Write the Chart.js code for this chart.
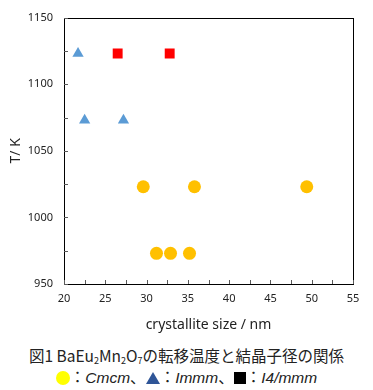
<!DOCTYPE html>
<html>
<head>
<meta charset="utf-8">
<script src="https://cdn.jsdelivr.net/npm/chart.js@4/dist/chart.umd.min.js"></script>
<style>
  body { margin: 0; background: #fff; width: 373px; height: 390px; overflow: hidden; }
  #wrap { width: 373px; height: 340px; position: relative; }
  .cap { font-family: "Noto Sans CJK JP", sans-serif; font-size: 15.5px; color: #222; text-align: center; line-height: 21px; }
  .cap sub { font-size: 9px; vertical-align: -2px; line-height: 0; }
  .lg i { font-family: "Liberation Sans", sans-serif; font-style: italic; }
  .dot { display: inline-block; width: 14px; height: 14px; border-radius: 50%; background: #ffff00; vertical-align: -2px; }
  .tri { display: inline-block; width: 0; height: 0; border-left: 7px solid transparent; border-right: 7px solid transparent; border-bottom: 12px solid #2f5597; vertical-align: -1px; }
  .sq { display: inline-block; width: 12px; height: 12px; background: #000; vertical-align: -1px; }
</style>
</head>
<body>
<div id="wrap"><canvas id="tempChart"></canvas></div>
<div class="cap" style="margin-top:5px">図1 BaEu<sub>2</sub>Mn<sub>2</sub>O<sub>7</sub>の転移温度と結晶子径の関係</div>
<div class="cap lg"><span class="dot"></span>：<i>Cmcm</i>、<span class="tri"></span>：<i>Immm</i>、<span class="sq"></span>：<i>I4/mmm</i></div>
<script>
// crystallite size (nm) vs transition temperature (K)
const cmcmSize = [29.6, 35.8, 49.4, 31.2, 32.9, 35.2];
const cmcmTemp = [1023, 1023, 1023, 973, 973, 973];
const immmSize = [21.7, 22.5, 27.2];
const immmTemp = [1123, 1073, 1073];
const i4Size = [26.5, 32.8];
const i4Temp = [1123, 1123];

const xTicks = [20, 25, 30, 35, 40, 45, 50, 55];
const yTicks = [950, 1000, 1050, 1100, 1150];

const toPoints = (xs, ys) => xs.map((x, i) => ({ x: x, y: ys[i] }));

// plot frame + short inward minor ticks
const framePlugin = {
  id: "frame",
  afterDraw(chart) {
    const { ctx, chartArea: a, scales } = chart;
    ctx.save();
    ctx.strokeStyle = "#000";
    ctx.lineWidth = 1;
    ctx.strokeRect(Math.round(a.left) + 0.5, Math.round(a.top) + 0.5, Math.round(a.right - a.left), Math.round(a.bottom - a.top));
    ctx.strokeStyle = "#595959";
    ctx.beginPath();
    for (let v = 20; v <= 55; v += 2.5) {
      const px = Math.round(scales.x.getPixelForValue(v)) + 0.5;
      ctx.moveTo(px, a.bottom);
      ctx.lineTo(px, a.bottom - 4);
    }
    for (let v = 950; v <= 1150; v += 25) {
      const py = Math.round(scales.y.getPixelForValue(v)) + 0.5;
      ctx.moveTo(a.left, py);
      ctx.lineTo(a.left + 4, py);
    }
    ctx.stroke();
    ctx.restore();
  }
};

new Chart(document.getElementById("tempChart"), {
  type: "scatter",
  data: {
    datasets: [
      {
        label: "Cmcm",
        data: toPoints(cmcmSize, cmcmTemp),
        pointStyle: "circle",
        pointRadius: 6.5,
        backgroundColor: "#ffc000",
        borderColor: "#ffc000",
        borderWidth: 0
      },
      {
        label: "Immm",
        data: toPoints(immmSize, immmTemp),
        pointStyle: "triangle",
        pointRadius: 6.5,
        backgroundColor: "#5b9bd5",
        borderColor: "#5b9bd5",
        borderWidth: 0
      },
      {
        label: "I4/mmm",
        data: toPoints(i4Size, i4Temp),
        pointStyle: "rect",
        pointRadius: 7,
        backgroundColor: "#ff0000",
        borderColor: "#ff0000",
        borderWidth: 0
      }
    ]
  },
  options: {
    responsive: true,
    maintainAspectRatio: false,
    animation: false,
    layout: { padding: { top: -4, right: 20, left: 8, bottom: 3 } },
    plugins: {
      legend: { display: false },
      tooltip: { enabled: false }
    },
    scales: {
      x: {
        type: "linear",
        min: 20,
        max: 55,
        afterBuildTicks: (s) => { s.ticks = xTicks.map((v) => ({ value: v })); },
        grid: { display: false, drawTicks: false },
        border: { display: false },
        ticks: { color: "#222", font: { family: "Noto Sans", size: 11 }, padding: 8, callback: (v) => String(v) },
        title: {
          display: true,
          text: "crystallite size / nm",
          color: "#222",
          font: { family: "Noto Sans", size: 14 },
          padding: { top: 3 }
        }
      },
      y: {
        type: "linear",
        min: 950,
        max: 1150,
        afterBuildTicks: (s) => { s.ticks = yTicks.map((v) => ({ value: v })); },
        afterFit: (s) => { s.width = 56; },
        grid: { display: false, drawTicks: false },
        border: { display: false },
        ticks: { color: "#222", font: { family: "Noto Sans", size: 11 }, padding: 11, callback: (v) => String(v) },
        title: {
          display: true,
          text: "T/ K",
          color: "#222",
          font: { family: "Noto Sans", size: 14 },
          padding: { top: 0, bottom: 0 }
        }
      }
    }
  },
  plugins: [framePlugin]
});
</script>
</body>
</html>
